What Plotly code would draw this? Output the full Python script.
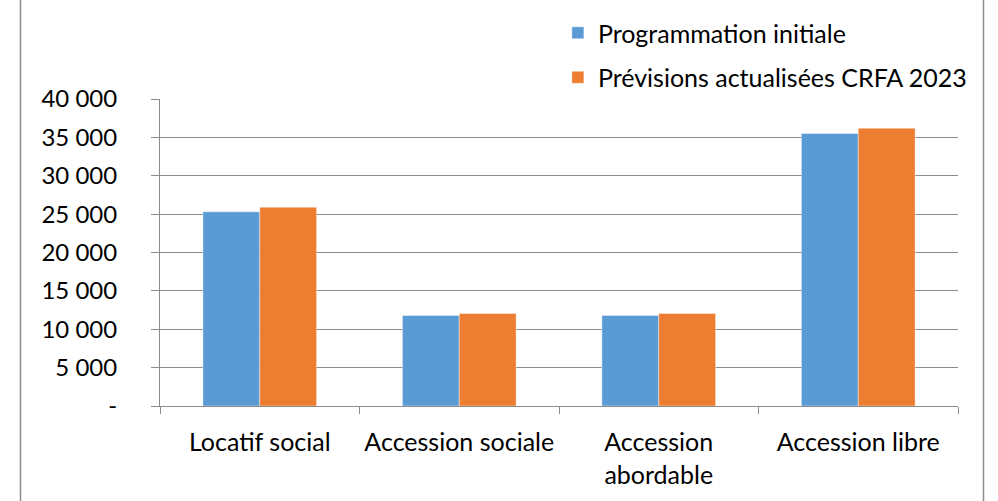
import plotly.graph_objects as go

categories = ["Locatif social", "Accession sociale", "Accession<br>abordable", "Accession libre"]
series_names = ["Programmation initiale", "Prévisions actualisées CRFA 2023"]
prog_initiale = [25300, 11800, 11800, 35500]
previsions_crfa = [25900, 12050, 12050, 36200]
y_tickvals = [0, 5000, 10000, 15000, 20000, 25000, 30000, 35000, 40000]
y_ticktext = ["-", "5 000", "10 000", "15 000", "20 000", "25 000", "30 000", "35 000", "40 000"]

colors = ["#5B9BD5", "#ED7D31"]
FONT = "Lato"

fig = go.Figure()
for i, (name, vals) in enumerate(zip(series_names, [prog_initiale, previsions_crfa])):
    fig.add_trace(go.Bar(
        x=categories, y=vals, name=name,
        marker=dict(color=colors[i], line=dict(color="rgba(255,255,255,0.7)", width=0.6)),
        legendgroup=f"g{i}",
    ))

frame_left = (20.5 - 160) / 798
frame_right = (983.5 - 160) / 798

fig.update_layout(
    width=998, height=501,
    margin=dict(l=160, r=40, t=99, b=95, autoexpand=False),
    paper_bgcolor="white", plot_bgcolor="white",
    barmode="group", bargap=0.43, bargroupgap=0,
    font=dict(family=FONT, size=24, color="#000000"),
    showlegend=True,
    legend=dict(
        xref="container", yref="container",
        x=0.559, y=0.98, xanchor="left", yanchor="top",
        font=dict(family=FONT, size=25, color="#000000"),
        tracegroupgap=9, itemwidth=30,
        bgcolor="rgba(0,0,0,0)",
    ),
    xaxis=dict(
        type="category", automargin=False, tickangle=0,
        showline=True, linecolor="#8c8c8c", linewidth=1,
        ticks="outside", ticklen=7, tickcolor="#8c8c8c", tickson="boundaries",
        showgrid=False, ticklabelstandoff=14,
        tickfont=dict(family=FONT, size=25, color="#000000"),
    ),
    yaxis=dict(
        range=[0, 40000], automargin=False,
        tickvals=y_tickvals, ticktext=y_ticktext,
        showline=True, linecolor="#8c8c8c", linewidth=1,
        ticks="outside", ticklen=8, tickcolor="#8c8c8c",
        showgrid=True, gridcolor="#8c8c8c", gridwidth=1,
        zeroline=False, ticklabelstandoff=29,
        tickfont=dict(family=FONT, size=24, color="#000000"),
    ),
    shapes=[
        dict(type="rect", xref="paper", yref="paper",
             x0=frame_left, x1=frame_right, y0=-0.5, y1=1.5,
             fillcolor="rgba(0,0,0,0)", layer="below",
             line=dict(color="#8c8c8c", width=1.5)),
    ],
)

fig.write_html("out.html", config={"displayModeBar": False},
               post_script="document.body.style.margin='0px';document.body.style.overflow='hidden';")
